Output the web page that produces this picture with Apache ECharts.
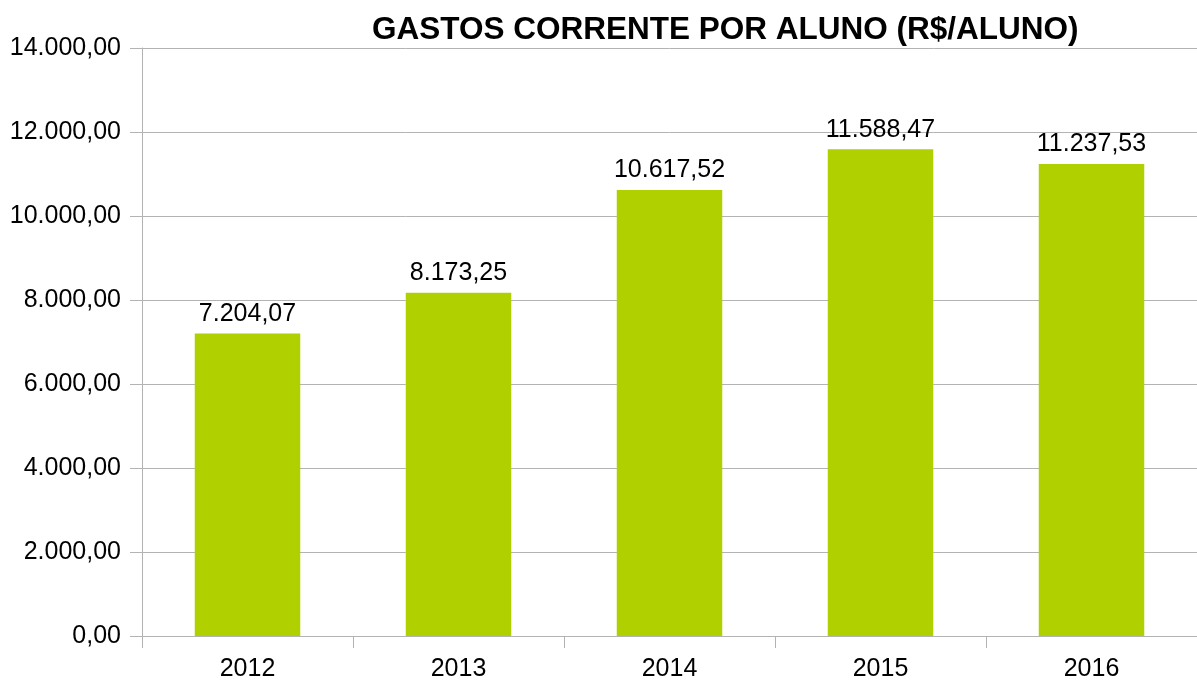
<!DOCTYPE html>
<html>
<head>
<meta charset="utf-8">
<script src="https://cdn.jsdelivr.net/npm/echarts@6/dist/echarts.min.js"></script>
<style>
  html, body { margin: 0; padding: 0; background: #fff; }
  #chart { width: 1197px; height: 684px; }
</style>
</head>
<body>
<div id="chart"></div>
<script>
const categories = ['2012', '2013', '2014', '2015', '2016']
const gastos = [7204.07, 8173.25, 10617.52, 11588.47, 11237.53]
const yTicks = [0, 2000, 4000, 6000, 8000, 10000, 12000, 14000]

const fmt = (v) => v.toLocaleString('pt-BR', {minimumFractionDigits: 2, maximumFractionDigits: 2})

const myChart = echarts.init(document.getElementById('chart'), null, {renderer: 'canvas'})
const option = {
    animation: false,
    title: {
        text: 'GASTOS CORRENTE POR ALUNO (R$/ALUNO)',
        left: 367,
        top: 9,
        textStyle: {
            fontFamily: 'Liberation Sans',
            fontSize: 31.5,
            fontWeight: 'bold',
            color: '#000'
        }
    },
    grid: {
        left: 142,
        right: 0,
        top: 48,
        bottom: 48
    },
    xAxis: {
        type: 'category',
        data: categories,
        axisLine: {lineStyle: {color: '#b3b3b3', width: 1}},
        axisTick: {show: true, length: 12, lineStyle: {color: '#b3b3b3'}},
        axisLabel: {
            margin: 21,
            fontFamily: 'Liberation Sans',
            fontSize: 25,
            color: '#000'
        }
    },
    yAxis: {
        type: 'value',
        min: yTicks[0],
        max: yTicks[yTicks.length - 1],
        interval: 2000,
        axisLine: {show: true, lineStyle: {color: '#b3b3b3', width: 1}},
        axisTick: {show: true, length: 12, lineStyle: {color: '#b3b3b3'}},
        splitLine: {lineStyle: {color: '#b3b3b3', width: 1}},
        axisLabel: {
            margin: 21,
            fontFamily: 'Liberation Sans',
            fontSize: 25,
            color: '#000',
            formatter: (v) => fmt(v)
        }
    },
    series: [
        {
            name: 'Gastos',
            type: 'bar',
            barWidth: '50%',
            data: gastos,
            itemStyle: {color: '#b0d000'},
            label: {
                show: true,
                position: 'top',
                distance: 7,
                fontFamily: 'Liberation Sans',
                fontSize: 25,
                color: '#000',
                formatter: (p) => fmt(p.value)
            }
        }
    ]
}
myChart.setOption(option)
</script>
</body>
</html>
